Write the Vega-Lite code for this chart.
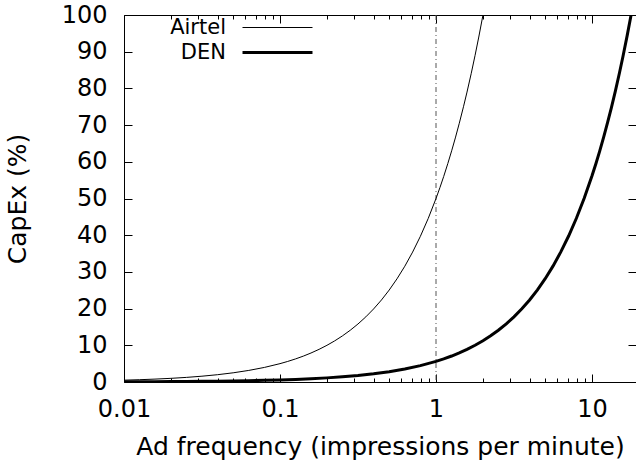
{
  "$schema": "https://vega.github.io/schema/vega-lite/v6.json",
  "width": 512,
  "height": 367,
  "autosize": {"type": "none"},
  "padding": {"left": 124, "top": 15, "right": 0, "bottom": 81},
  "background": "white",
  "config": {
    "font": "DejaVu Sans",
    "view": {"stroke": null},
    "axis": {
      "labelFont": "DejaVu Sans",
      "titleFont": "DejaVu Sans",
      "labelFontSize": 24,
      "titleFontSize": 25,
      "labelColor": "black",
      "titleColor": "black",
      "titleFontWeight": "normal",
      "domainColor": "black",
      "tickColor": "black",
      "grid": false,
      "domainWidth": 1,
      "tickWidth": 1
    },
    "legend": {
      "labelFont": "DejaVu Sans",
      "labelFontSize": 21,
      "labelColor": "black"
    }
  },
  "resolve": {"axis": {"x": "independent", "y": "independent"}},
  "datasets": {
    "curves": [
      {"series": "Airtel", "x": 0.01, "y": 0.5},
      {"series": "Airtel", "x": 0.0126, "y": 0.63},
      {"series": "Airtel", "x": 0.0158, "y": 0.79},
      {"series": "Airtel", "x": 0.02, "y": 1.0},
      {"series": "Airtel", "x": 0.0251, "y": 1.255},
      {"series": "Airtel", "x": 0.0316, "y": 1.58},
      {"series": "Airtel", "x": 0.0398, "y": 1.99},
      {"series": "Airtel", "x": 0.0501, "y": 2.505},
      {"series": "Airtel", "x": 0.0631, "y": 3.155},
      {"series": "Airtel", "x": 0.0794, "y": 3.97},
      {"series": "Airtel", "x": 0.1, "y": 5.0},
      {"series": "Airtel", "x": 0.112, "y": 5.6},
      {"series": "Airtel", "x": 0.126, "y": 6.3},
      {"series": "Airtel", "x": 0.141, "y": 7.05},
      {"series": "Airtel", "x": 0.158, "y": 7.9},
      {"series": "Airtel", "x": 0.178, "y": 8.9},
      {"series": "Airtel", "x": 0.2, "y": 10.0},
      {"series": "Airtel", "x": 0.224, "y": 11.2},
      {"series": "Airtel", "x": 0.251, "y": 12.55},
      {"series": "Airtel", "x": 0.282, "y": 14.1},
      {"series": "Airtel", "x": 0.316, "y": 15.8},
      {"series": "Airtel", "x": 0.355, "y": 17.75},
      {"series": "Airtel", "x": 0.398, "y": 19.9},
      {"series": "Airtel", "x": 0.447, "y": 22.35},
      {"series": "Airtel", "x": 0.501, "y": 25.05},
      {"series": "Airtel", "x": 0.562, "y": 28.1},
      {"series": "Airtel", "x": 0.631, "y": 31.55},
      {"series": "Airtel", "x": 0.708, "y": 35.4},
      {"series": "Airtel", "x": 0.794, "y": 39.7},
      {"series": "Airtel", "x": 0.891, "y": 44.55},
      {"series": "Airtel", "x": 1.0, "y": 50.0},
      {"series": "Airtel", "x": 1.06, "y": 53.0},
      {"series": "Airtel", "x": 1.12, "y": 56.0},
      {"series": "Airtel", "x": 1.19, "y": 59.5},
      {"series": "Airtel", "x": 1.26, "y": 63.0},
      {"series": "Airtel", "x": 1.33, "y": 66.5},
      {"series": "Airtel", "x": 1.41, "y": 70.5},
      {"series": "Airtel", "x": 1.5, "y": 75.0},
      {"series": "Airtel", "x": 1.58, "y": 79.0},
      {"series": "Airtel", "x": 1.68, "y": 84.0},
      {"series": "Airtel", "x": 1.78, "y": 89.0},
      {"series": "Airtel", "x": 1.88, "y": 94.0},
      {"series": "Airtel", "x": 2.0, "y": 100.0},
      {"series": "DEN", "x": 0.01, "y": 0.056},
      {"series": "DEN", "x": 0.0126, "y": 0.071},
      {"series": "DEN", "x": 0.0158, "y": 0.089},
      {"series": "DEN", "x": 0.02, "y": 0.112},
      {"series": "DEN", "x": 0.0251, "y": 0.141},
      {"series": "DEN", "x": 0.0316, "y": 0.178},
      {"series": "DEN", "x": 0.0398, "y": 0.224},
      {"series": "DEN", "x": 0.0501, "y": 0.281},
      {"series": "DEN", "x": 0.0631, "y": 0.354},
      {"series": "DEN", "x": 0.0794, "y": 0.446},
      {"series": "DEN", "x": 0.1, "y": 0.562},
      {"series": "DEN", "x": 0.126, "y": 0.708},
      {"series": "DEN", "x": 0.158, "y": 0.888},
      {"series": "DEN", "x": 0.2, "y": 1.124},
      {"series": "DEN", "x": 0.251, "y": 1.41},
      {"series": "DEN", "x": 0.316, "y": 1.775},
      {"series": "DEN", "x": 0.398, "y": 2.236},
      {"series": "DEN", "x": 0.501, "y": 2.815},
      {"series": "DEN", "x": 0.631, "y": 3.545},
      {"series": "DEN", "x": 0.794, "y": 4.461},
      {"series": "DEN", "x": 1.0, "y": 5.618},
      {"series": "DEN", "x": 1.12, "y": 6.292},
      {"series": "DEN", "x": 1.26, "y": 7.079},
      {"series": "DEN", "x": 1.41, "y": 7.921},
      {"series": "DEN", "x": 1.58, "y": 8.876},
      {"series": "DEN", "x": 1.78, "y": 10.0},
      {"series": "DEN", "x": 2.0, "y": 11.24},
      {"series": "DEN", "x": 2.24, "y": 12.58},
      {"series": "DEN", "x": 2.51, "y": 14.1},
      {"series": "DEN", "x": 2.82, "y": 15.84},
      {"series": "DEN", "x": 3.16, "y": 17.75},
      {"series": "DEN", "x": 3.55, "y": 19.94},
      {"series": "DEN", "x": 3.98, "y": 22.36},
      {"series": "DEN", "x": 4.47, "y": 25.11},
      {"series": "DEN", "x": 5.01, "y": 28.15},
      {"series": "DEN", "x": 5.62, "y": 31.57},
      {"series": "DEN", "x": 6.31, "y": 35.45},
      {"series": "DEN", "x": 7.08, "y": 39.78},
      {"series": "DEN", "x": 7.94, "y": 44.61},
      {"series": "DEN", "x": 8.91, "y": 50.06},
      {"series": "DEN", "x": 10.0, "y": 56.18},
      {"series": "DEN", "x": 10.6, "y": 59.55},
      {"series": "DEN", "x": 11.2, "y": 62.92},
      {"series": "DEN", "x": 11.9, "y": 66.85},
      {"series": "DEN", "x": 12.6, "y": 70.79},
      {"series": "DEN", "x": 13.3, "y": 74.72},
      {"series": "DEN", "x": 14.1, "y": 79.21},
      {"series": "DEN", "x": 15.0, "y": 84.27},
      {"series": "DEN", "x": 15.8, "y": 88.76},
      {"series": "DEN", "x": 16.8, "y": 94.38},
      {"series": "DEN", "x": 17.8, "y": 100.0}
    ],
    "marker": [{"x": 1}]
  },
  "layer": [
    {
      "data": {"name": "marker"},
      "mark": {"type": "rule", "color": "#555555", "strokeWidth": 1, "strokeDash": [5, 3, 1, 3]},
      "encoding": {
        "x": {"field": "x", "type": "quantitative", "scale": {"type": "log", "domain": [0.01, 19.14]}, "axis": null}
      }
    },
    {
      "data": {"name": "curves"},
      "mark": {"type": "line", "color": "black", "clip": true},
      "encoding": {
        "x": {
          "field": "x", "type": "quantitative",
          "scale": {"type": "log", "domain": [0.01, 19.14]},
          "axis": {"orient": "bottom", "values": [0.01, 0.1, 1, 10], "format": "~g", "tickSize": -8, "labelPadding": 23, "title": "Ad frequency (impressions per minute)", "titlePadding": 13, "labelFlush": false, "labelOverlap": false}
        },
        "y": {
          "field": "y", "type": "quantitative",
          "scale": {"domain": [0, 100], "nice": false, "zero": false},
          "axis": {"orient": "left", "values": [0, 10, 20, 30, 40, 50, 60, 70, 80, 90, 100], "tickSize": -8, "labelPadding": 25, "title": "CapEx (%)", "titlePadding": 31, "labelFlush": false, "labelOverlap": false}
        },
        "strokeWidth": {
          "field": "series", "type": "nominal",
          "scale": {"domain": ["Airtel", "DEN"], "range": [1, 3]},
          "legend": {
            "orient": "none", "legendX": 140, "legendY": 0, "title": null,
            "symbolType": "M-3,0H3", "symbolSize": 544, "symbolStrokeColor": "black",
            "labelAlign": "right", "labelOffset": -65, "rowPadding": 1, "padding": 0
          }
        }
      }
    },
    {
      "data": {"name": "curves"},
      "mark": {"type": "point", "opacity": 0},
      "encoding": {
        "x": {
          "field": "x", "type": "quantitative",
          "scale": {"type": "log", "domain": [0.01, 19.14]},
          "axis": {"orient": "top", "values": [0.01, 0.1, 1, 10], "tickSize": -8, "labels": false, "title": null}
        },
        "y": {
          "field": "y", "type": "quantitative",
          "scale": {"domain": [0, 100], "nice": false, "zero": false},
          "axis": {"orient": "right", "values": [0, 10, 20, 30, 40, 50, 60, 70, 80, 90, 100], "tickSize": -8, "labels": false, "title": null, "domain": false}
        }
      }
    },
    {
      "data": {"name": "marker"},
      "mark": {"type": "rule", "opacity": 0},
      "encoding": {
        "x": {
          "field": "x", "type": "quantitative",
          "scale": {"type": "log", "domain": [0.01, 19.14]},
          "axis": {"orient": "top", "values": [0.02, 0.03, 0.04, 0.05, 0.06, 0.07, 0.08, 0.09, 0.2, 0.3, 0.4, 0.5, 0.6, 0.7, 0.8, 0.9, 2, 3, 4, 5, 6, 7, 8, 9], "tickSize": -4, "labels": false, "title": null, "domain": false}
        }
      }
    },
    {
      "data": {"name": "marker"},
      "mark": {"type": "rule", "opacity": 0},
      "encoding": {
        "x": {
          "field": "x", "type": "quantitative",
          "scale": {"type": "log", "domain": [0.01, 19.14]},
          "axis": {"orient": "bottom", "values": [0.02, 0.03, 0.04, 0.05, 0.06, 0.07, 0.08, 0.09, 0.2, 0.3, 0.4, 0.5, 0.6, 0.7, 0.8, 0.9, 2, 3, 4, 5, 6, 7, 8, 9], "tickSize": -4, "labels": false, "title": null, "domain": false}
        }
      }
    }
  ]
}
